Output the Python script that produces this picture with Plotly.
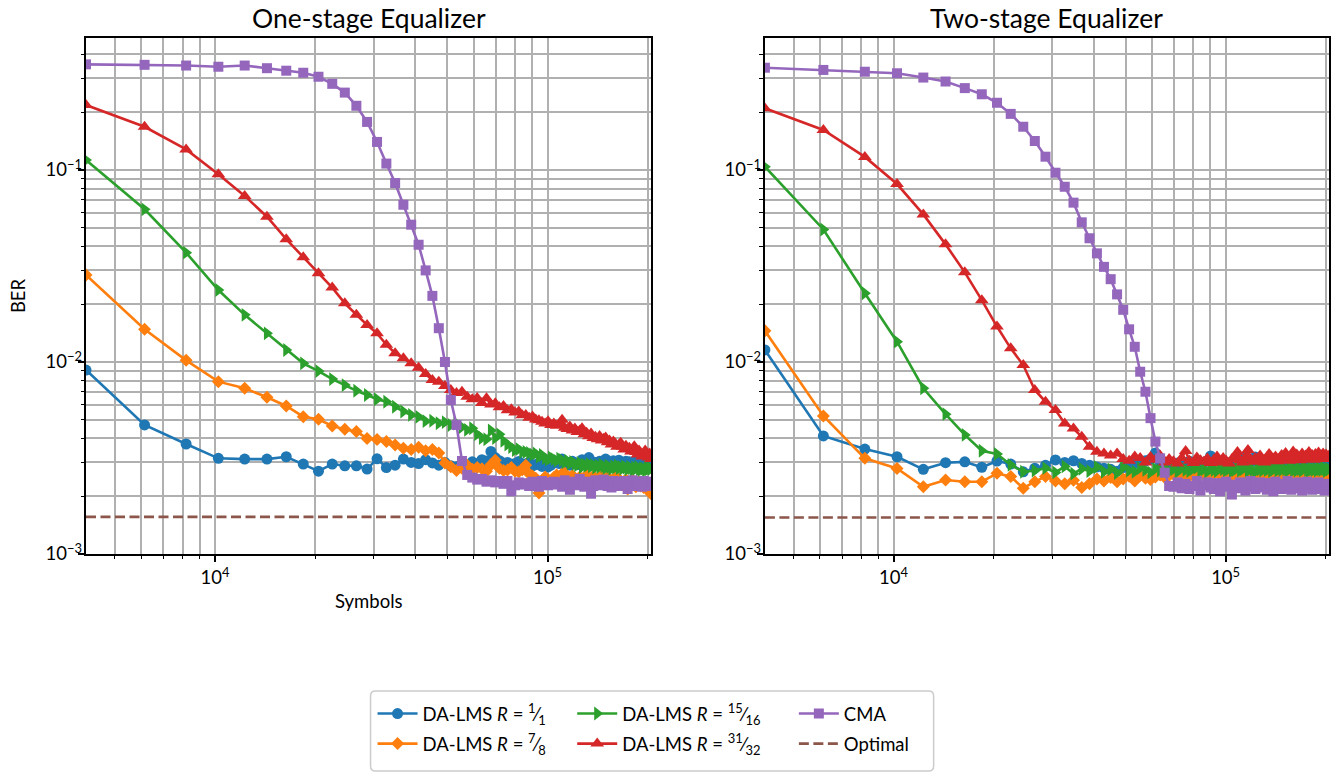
import math
import plotly.graph_objects as go

# Sample positions (number of received symbols)
symbols = list(range(4096, 204801, 2048))

# ---- One-stage equalizer BER ----
ber1_r1 = [
    .00908, .00470, .00374, .00315, .00312, .00312, .00321, .00294, .00270, .00294,
    .00288, .00288, .00277, .00313, .00282, .00290, .00312, .00300, .00296, .00310,
    .00298, .00290, .00300, .00288, .00285, .00295, .00290, .00302, .00296, .00310,
    .00305, .00342, .00318, .00306, .00298, .00300, .00292, .00296, .00303, .00290,
    .00295, .00300, .00288, .00292, .00298, .00286, .00296, .00284, .00290, .00306,
    .00300, .00296, .00312, .00302, .00296, .00290, .00304, .00298, .00292, .00300,
    .00310, .00302, .00294, .00318, .00305, .00296, .00300, .00292, .00304, .00298,
    .00302, .00312, .00296, .00290, .00300, .00306, .00294, .00300, .00308, .00296,
    .00292, .00300, .00304, .00296, .00302, .00294, .00290, .00298, .00304, .00292,
    .00296, .00300, .00288, .00294, .00290, .00286, .00292, .00284, .00288,
]
ber1_r78 = [
    .0284, .0148, .0102, .0079, .0073, .00655, .0059, .00519, .00503, .00464,
    .00446, .00434, .00400, .00395, .00385, .00370, .00355, .00350, .00360, .00345,
    .00350, .00336, .00298, .00285, .00272, .00280, .00290, .00276, .00282, .00278,
    .00270, .00292, .00308, .00280, .00272, .00274, .00282, .00270, .00268, .00275,
    .00290, .00262, .00255, .00248, .00208, .00240, .00252, .00244, .00238, .00250,
    .00258, .00246, .00262, .00264, .00250, .00242, .00256, .00248, .00240, .00252,
    .00244, .00250, .00258, .00246, .00238, .00254, .00248, .00242, .00250, .00256,
    .00246, .00240, .00252, .00244, .00238, .00243, .00250, .00236, .00246, .00240,
    .00232, .00238, .00244, .00218, .00228, .00236, .00242, .00230, .00224, .00234,
    .00238, .00226, .00232, .00222, .00230, .00218, .00226, .00214, .00206,
]
ber1_r1516 = [
    .1127, .0624, .0371, .0237, .0176, .0141, .01155, .00984, .00897, .00815,
    .00758, .00708, .00673, .00640, .00621, .00585, .00552, .00530, .00518, .00492,
    .00494, .00480, .00486, .00470, .00478, .00458, .00443, .00452, .00420, .00402,
    .00396, .00440, .00402, .00420, .00388, .00372, .00360, .00348, .00352, .00340,
    .00340, .00336, .00330, .00334, .00322, .00328, .00316, .00310, .00318, .00312,
    .00306, .00314, .00308, .00300, .00306, .00296, .00302, .00294, .00290, .00298,
    .00284, .00292, .00288, .00294, .00286, .00290, .00282, .00288, .00284, .00292,
    .00286, .00280, .00288, .00284, .00278, .00286, .00282, .00288, .00280, .00284,
    .00278, .00286, .00282, .00276, .00284, .00280, .00274, .00282, .00278, .00284,
    .00276, .00274, .00280, .00278, .00272, .00282, .00276, .00280, .00278,
]
ber1_r3132 = [
    .218, .168, .128, .095, .0733, .0571, .0436, .0351, .0290, .0244,
    .0202, .0176, .0156, .0141, .0123, .0111, .01045, .00984, .00933, .00866,
    .00805, .00790, .00750, .00715, .00690, .00700, .00660, .00640, .00650, .00612,
    .00648, .00600, .00610, .00582, .00590, .00560, .00568, .00545, .00552, .00528,
    .00530, .00512, .00520, .00502, .00498, .00488, .00478, .00492, .00470, .00478,
    .00466, .00474, .00500, .00455, .00448, .00462, .00440, .00450, .00432, .00440,
    .00452, .00420, .00428, .00410, .00424, .00402, .00408, .00396, .00412, .00390,
    .00398, .00404, .00382, .00390, .00372, .00386, .00376, .00362, .00370, .00380,
    .00362, .00350, .00366, .00352, .00358, .00342, .00350, .00364, .00340, .00330,
    .00346, .00336, .00322, .00330, .00346, .00330, .00318, .00334, .00312,
]
ber1_cma = [
    .355, .353, .350, .345, .350, .339, .329, .321, .306, .281,
    .253, .216, .178, .140, .108, .0855, .0659, .0519, .0408, .0300,
    .0221, .0150, .0100, .00634, .0047, .00305, .00258, .00250, .00244, .00246,
    .00238, .00242, .00236, .00240, .00232, .00240, .00212, .00228, .00236, .00230,
    .00234, .00226, .00238, .00232, .00224, .00240, .00236, .00228, .00232, .00238,
    .00230, .00236, .00224, .00242, .00228, .00216, .00234, .00238, .00228, .00246,
    .00232, .00224, .00238, .00230, .00206, .00226, .00242, .00234, .00228, .00236,
    .00244, .00230, .00226, .00236, .00222, .00240, .00232, .00228, .00238, .00226,
    .00234, .00240, .00228, .00218, .00236, .00230, .00242, .00226, .00234, .00238,
    .00228, .00236, .00224, .00240, .00230, .00226, .00238, .00232, .00236,
]
ber1_opt = 1.56e-3

# ---- Two-stage equalizer BER ----
ber2_r1 = [
    .01155, .00412, .00352, .00321, .00276, .00299, .00302, .00283, .00305, .00294,
    .00268, .00280, .00290, .00309, .00300, .00306, .00296, .00290, .00284, .00280,
    .00276, .00270, .00282, .00290, .00296, .00300, .00306, .00312, .00336, .00302,
    .00296, .00300, .00294, .00298, .00292, .00300, .00304, .00296, .00302, .00298,
    .00300, .00306, .00324, .00310, .00302, .00296, .00304, .00300, .00294, .00302,
    .00310, .00300, .00296, .00316, .00304, .00298, .00302, .00306, .00320, .00304,
    .00300, .00308, .00298, .00312, .00304, .00300, .00310, .00302, .00296, .00306,
    .00304, .00310, .00300, .00318, .00306, .00300, .00308, .00302, .00312, .00304,
    .00300, .00308, .00314, .00302, .00306, .00298, .00310, .00304, .00300, .00308,
    .00312, .00304, .00300, .00310, .00306, .00302, .00308, .00304, .00310,
]
ber2_r78 = [
    .01455, .00524, .00315, .00279, .00224, .00243, .00238, .00238, .00263, .00253,
    .00220, .00238, .00253, .00240, .00232, .00242, .00222, .00232, .00246, .00240,
    .00250, .00238, .00246, .00254, .00240, .00256, .00248, .00244, .00252, .00258,
    .00250, .00256, .00260, .00252, .00258, .00262, .00254, .00260, .00256, .00262,
    .00258, .00264, .00256, .00262, .00268, .00258, .00254, .00262, .00266, .00258,
    .00262, .00256, .00264, .00270, .00260, .00258, .00266, .00262, .00256, .00264,
    .00268, .00260, .00258, .00264, .00262, .00270, .00258, .00262, .00266, .00260,
    .00258, .00264, .00268, .00260, .00256, .00262, .00266, .00258, .00264, .00270,
    .00262, .00258, .00266, .00260, .00264, .00256, .00262, .00268, .00260, .00258,
    .00264, .00260, .00256, .00262, .00266, .00258, .00262, .00260, .00264,
]
ber2_r1516 = [
    .104, .049, .0228, .01276, .0073, .00535, .00417, .00345, .00332, .00291,
    .00268, .00272, .00280, .00266, .00286, .00262, .00278, .00270, .00284, .00268,
    .00276, .00264, .00282, .00272, .00268, .00280, .00274, .00266, .00278, .00272,
    .00280, .00270, .00276, .00268, .00284, .00274, .00270, .00278, .00282, .00272,
    .00276, .00268, .00280, .00274, .00270, .00282, .00276, .00272, .00278, .00270,
    .00274, .00280, .00272, .00276, .00284, .00270, .00278, .00274, .00268, .00280,
    .00276, .00272, .00282, .00274, .00278, .00270, .00276, .00280, .00272, .00278,
    .00274, .00280, .00276, .00270, .00278, .00282, .00274, .00276, .00272, .00280,
    .00276, .00272, .00278, .00282, .00274, .00270, .00280, .00276, .00274, .00278,
    .00272, .00280, .00276, .00274, .00282, .00276, .00270, .00278, .00276,
]
ber2_r3132 = [
    .2095, .1615, .117, .0845, .0587, .0410, .0293, .0210, .0153, .01178,
    .00964, .00715, .00621, .00562, .00479, .00450, .00408, .00362, .00341, .00334,
    .00326, .00334, .00312, .00306, .00322, .00316, .00300, .00320, .00310, .00326,
    .00300, .00312, .00304, .00296, .00316, .00344, .00306, .00298, .00318, .00308,
    .00302, .00314, .00298, .00310, .00322, .00300, .00316, .00306, .00296, .00312,
    .00320, .00340, .00308, .00300, .00318, .00348, .00312, .00302, .00316, .00306,
    .00326, .00310, .00300, .00318, .00332, .00306, .00314, .00322, .00304, .00316,
    .00328, .00310, .00336, .00316, .00306, .00324, .00342, .00312, .00330, .00318,
    .00308, .00334, .00320, .00326, .00312, .00340, .00318, .00328, .00310, .00332,
    .00322, .00338, .00316, .00326, .00334, .00312, .00330, .00320, .00326,
]
ber2_cma = [
    .341, .332, .325, .319, .303, .289, .267, .248, .224, .196,
    .168, .1416, .1173, .0968, .0818, .0676, .0534, .0441, .0368, .0313,
    .0270, .0225, .0187, .0148, .0120, .0089, .0070, .0051, .00385, .00315,
    .00265, .00226, .00224, .00236, .00220, .00232, .00218, .00226, .00240, .00214,
    .00228, .00236, .00222, .00218, .00234, .00212, .00230, .00238, .00224, .00204,
    .00230, .00220, .00236, .00226, .00214, .00232, .00240, .00224, .00218, .00230,
    .00236, .00222, .00228, .00216, .00234, .00226, .00212, .00238, .00224, .00230,
    .00218, .00232, .00226, .00240, .00222, .00216, .00234, .00228, .00220, .00236,
    .00224, .00214, .00232, .00226, .00238, .00220, .00230, .00216, .00234, .00226,
    .00222, .00236, .00218, .00230, .00226, .00214, .00232, .00224, .00228,
]
ber2_opt = 1.55e-3

panel_titles = ["One-stage Equalizer", "Two-stage Equalizer"]
x_tick_vals = [1e4, 1e5]
x_tick_text = ["10<sup>4</sup>", "10<sup>5</sup>"]
y_tick_vals = [1e-3, 1e-2, 1e-1]
y_tick_text = ["10<sup>\u22123</sup>", "10<sup>\u22122</sup>", "10<sup>\u22121</sup>"]
x_minor_vals = [5000, 6000, 7000, 8000, 9000,
                20000, 30000, 40000, 50000, 60000, 70000, 80000, 90000, 200000]
y_minor_vals = [2e-3, 3e-3, 4e-3, 5e-3, 6e-3, 7e-3, 8e-3, 9e-3,
                2e-2, 3e-2, 4e-2, 5e-2, 6e-2, 7e-2, 8e-2, 9e-2,
                0.2, 0.3, 0.4]

# Page geometry (pixels)
W, H = 1338, 773
ML, MR, MT, MB = 86, 7, 38, 219
PW = W - ML - MR
PH = H - MT - MB


def fx(p):
    return (p - ML) / PW


def fy(p):
    return (H - MB - p) / PH


FONT = "Lato"
FS = 18.5
GRID = "#b0b0b0"

series_style = [
    # label, colour, marker, size, legend
    ("DA-LMS <i>R</i> = <sup>1</sup>\u2044<sub>1</sub>", "#1f77b4", "circle", 11, "legend"),
    ("DA-LMS <i>R</i> = <sup>7</sup>\u2044<sub>8</sub>", "#ff7f0e", "diamond", 10, "legend"),
    ("DA-LMS <i>R</i> = <sup>15</sup>\u2044<sub>16</sub>", "#2ca02c", "triangle-right", 12, "legend2"),
    ("DA-LMS <i>R</i> = <sup>31</sup>\u2044<sub>32</sub>", "#d62728", "triangle-up", 12, "legend2"),
    ("CMA", "#9467bd", "square", 10, "legend3"),
]

panels = [
    ("x", "y", [ber1_r1, ber1_r78, ber1_r1516, ber1_r3132, ber1_cma], ber1_opt),
    ("x2", "y2", [ber2_r1, ber2_r78, ber2_r1516, ber2_r3132, ber2_cma], ber2_opt),
]

fig = go.Figure()
for pi, (xa, ya, curves, opt) in enumerate(panels):
    for si, ((label, color, sym, size, leg), vals) in enumerate(zip(series_style, curves)):
        fig.add_trace(go.Scatter(
            x=symbols, y=vals, xaxis=xa, yaxis=ya,
            mode="lines+markers", name=label, legendgroup=f"s{si}",
            line=dict(color=color, width=2.6),
            marker=dict(symbol=sym, size=size, color=color),
            showlegend=(pi == 0), legend=leg,
        ))
    fig.add_trace(go.Scatter(
        x=[symbols[0], symbols[-1]], y=[opt, opt], xaxis=xa, yaxis=ya,
        mode="lines", name="Optimal", legendgroup="opt",
        line=dict(color="#8c564b", width=2.6, dash="10px,4.5px"),
        showlegend=(pi == 0), legend="legend3",
    ))

xr = [math.log10(symbols[0]), math.log10(symbols[-1])]
yr = [-3, -0.3125]

axis_common = dict(
    showline=True, linecolor="black", linewidth=1.5, mirror=True,
    ticks="outside", ticklen=6.5, tickwidth=1.5, tickcolor="black",
    showgrid=True, gridcolor=GRID, gridwidth=1.5,
    zeroline=False,
    tickfont=dict(family=FONT, size=FS, color="black"),
)
minor_common = dict(ticks="outside", ticklen=3.7, tickwidth=1.1, tickcolor="black",
                    showgrid=True, gridcolor=GRID, gridwidth=1.5)

left_dom = [0, fx(652)]
right_dom = [fx(766), 1]

fig.update_layout(
    width=W, height=H,
    margin=dict(l=ML, r=MR, t=MT, b=MB, pad=0),
    paper_bgcolor="white", plot_bgcolor="white",
    font=dict(family=FONT, size=FS, color="black"),
    xaxis=dict(type="log", range=xr, domain=left_dom, anchor="y",
               tickmode="array", tickvals=x_tick_vals, ticktext=x_tick_text,
               minor=dict(tickmode="array", tickvals=x_minor_vals, **minor_common),
               **axis_common),
    yaxis=dict(type="log", range=yr, domain=[0, 1], anchor="x",
               tickmode="array", tickvals=y_tick_vals, ticktext=y_tick_text,
               minor=dict(tickmode="array", tickvals=y_minor_vals, **minor_common),
               ticklabelstandoff=-8, **axis_common),
    xaxis2=dict(type="log", range=xr, domain=right_dom, anchor="y2",
                tickmode="array", tickvals=x_tick_vals, ticktext=x_tick_text,
                minor=dict(tickmode="array", tickvals=x_minor_vals, **minor_common),
                **axis_common),
    yaxis2=dict(type="log", range=yr, domain=[0, 1], anchor="x2",
                tickmode="array", tickvals=y_tick_vals, ticktext=y_tick_text,
                minor=dict(tickmode="array", tickvals=y_minor_vals, **minor_common),
                ticklabelstandoff=-8, **axis_common),
)

legend_common = dict(
    orientation="v", xanchor="left", yanchor="top",
    bgcolor="rgba(0,0,0,0)", borderwidth=0,
    font=dict(family=FONT, size=FS, color="black"),
    itemwidth=40, tracegroupgap=3,
)
fig.update_layout(
    legend=dict(x=fx(373), y=fy(695), **legend_common),
    legend2=dict(x=fx(573), y=fy(695), **legend_common),
    legend3=dict(x=fx(795), y=fy(695), **legend_common),
)

# Legend frame with rounded corners
x0, x1, y0, y1 = fx(371), fx(935), fy(771), fy(691)
rx, ry = 5 / PW, 5 / PH
frame = (f"M{x0 + rx},{y1} L{x1 - rx},{y1} Q{x1},{y1} {x1},{y1 - ry} "
         f"L{x1},{y0 + ry} Q{x1},{y0} {x1 - rx},{y0} L{x0 + rx},{y0} "
         f"Q{x0},{y0} {x0},{y0 + ry} L{x0},{y1 - ry} Q{x0},{y1} {x0 + rx},{y1} Z")
fig.add_shape(type="path", path=frame, xref="paper", yref="paper",
              line=dict(color="#cccccc", width=1.5), fillcolor="rgba(255,255,255,0.8)",
              layer="below")

# Panel titles and axis labels
for ti, title in enumerate(panel_titles):
    dom = left_dom if ti == 0 else right_dom
    fig.add_annotation(text=title, x=(dom[0] + dom[1]) / 2, y=fy(18),
                       xref="paper", yref="paper", showarrow=False,
                       xanchor="center", yanchor="middle",
                       font=dict(family=FONT, size=26.5, color="black"))
fig.add_annotation(text="Symbols", x=(left_dom[0] + left_dom[1]) / 2, y=fy(601),
                   xref="paper", yref="paper", showarrow=False,
                   xanchor="center", yanchor="middle",
                   font=dict(family=FONT, size=FS, color="black"))
fig.add_annotation(text="BER", x=fx(18), y=fy(296), textangle=-90,
                   xref="paper", yref="paper", showarrow=False,
                   xanchor="center", yanchor="middle",
                   font=dict(family=FONT, size=FS, color="black"))

fig.write_html("out.html")
